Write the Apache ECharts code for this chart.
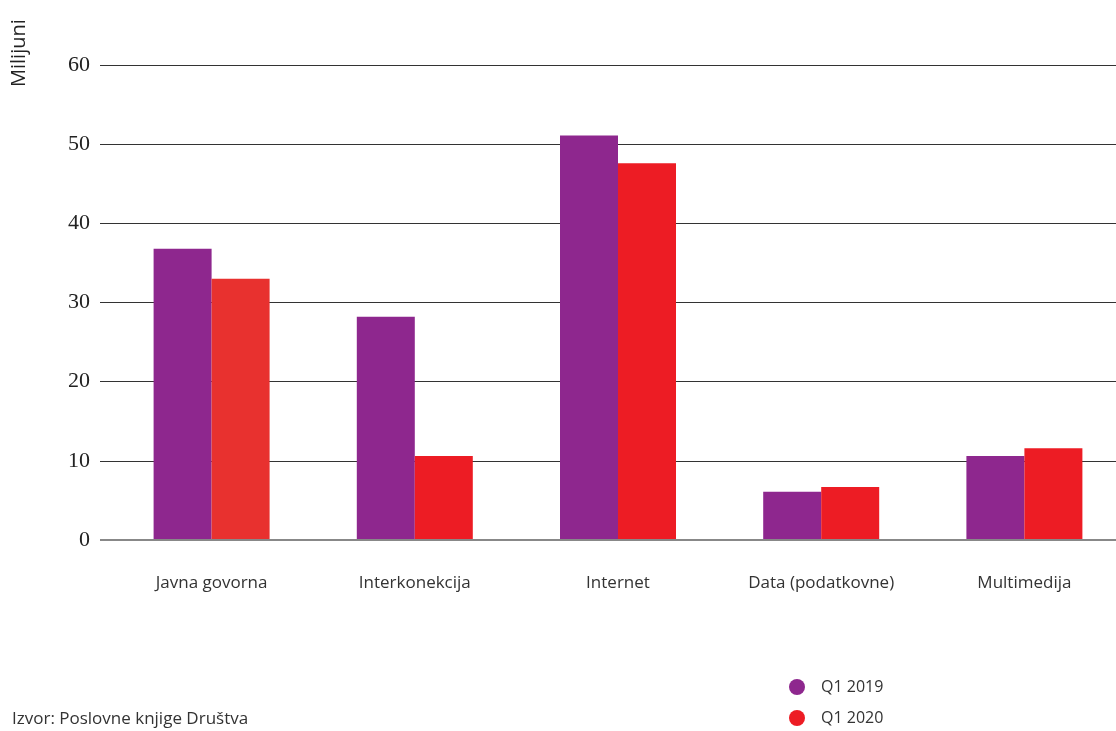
<!DOCTYPE html>
<html><head><meta charset="utf-8">
<script src="https://cdn.jsdelivr.net/npm/echarts@6/dist/echarts.min.js"></script>
<style>html,body{margin:0;padding:0;background:#fff}#c{width:1116px;height:731px}</style>
</head><body><div id="c"></div>
<script>
const categories = ['Javna govorna', 'Interkonekcija', 'Internet', 'Data (podatkovne)', 'Multimedija'];
const q12019 = [36.8, 28.2, 51.1, 6.1, 10.6];
const q12020 = [33.0, 10.6, 47.6, 6.7, 11.6];
const seriesNames = ['Q1 2019', 'Q1 2020'];
const yTicks = [0, 10, 20, 30, 40, 50, 60];

const chart = echarts.init(document.getElementById('c'));
const sans = '"Open Sans", "Noto Sans", sans-serif';
chart.setOption({
  animation: false,
  grid: [
    {left: 100, right: 0, top: 65, bottom: 191, outerBoundsMode: 'none', containLabel: false},
    {left: 110, right: -10, top: 65, bottom: 191, outerBoundsMode: 'none', containLabel: false}
  ],
  xAxis: [
    {type: 'category', gridIndex: 0, data: categories, show: false},
    {type: 'category', gridIndex: 1, data: categories,
     axisLine: {show: false}, axisTick: {show: false},
     axisLabel: {color: '#333', fontFamily: sans, fontSize: 17, margin: 35}}
  ],
  yAxis: [
    {type: 'value', gridIndex: 0, min: yTicks[0], max: yTicks[yTicks.length-1], interval: 10,
     axisLine: {show: false}, axisTick: {show: false},
     axisLabel: {color: '#222', fontFamily: '"Liberation Serif", "DejaVu Serif", serif', fontSize: 22, margin: 10},
     splitLine: {lineStyle: {color: '#333', width: 1}}},
    {type: 'value', gridIndex: 1, min: yTicks[0], max: yTicks[yTicks.length-1], interval: 10, show: false}
  ],
  legend: {
    orient: 'vertical', left: 784, top: 674, itemGap: 15,
    icon: 'circle', itemWidth: 18, itemHeight: 16,
    textStyle: {color: '#333', fontFamily: sans, fontSize: 16, padding: [0, 0, 0, 10]},
    data: seriesNames
  },
  graphic: [
    {type: 'text', left: 12, top: 711, style: {text: 'Izvor: Poslovne knjige Društva', fill: '#333', font: '17px "Open Sans", "Noto Sans", sans-serif'}},
    {type: 'text', x: 9, y: 87, rotation: Math.PI / 2,
     style: {text: 'Milijuni', fill: '#222', font: '20px "Open Sans", "Noto Sans", sans-serif', align: 'left', verticalAlign: 'top'}},
    {type: 'line', shape: {x1: 100, y1: 540, x2: 1116, y2: 540}, style: {stroke: '#888', lineWidth: 2}, z: 100}
  ],
  series: [
    {name: seriesNames[0], type: 'bar', xAxisIndex: 1, yAxisIndex: 1, data: q12019, barWidth: 58, barGap: '0%',
     itemStyle: {color: '#8E278E'}},
    {name: seriesNames[1], type: 'bar', xAxisIndex: 1, yAxisIndex: 1, barWidth: 58, barGap: '0%',
     data: q12020.map((v, i) => i === 0 ? {value: v, itemStyle: {color: '#E8312F'}} : v),
     itemStyle: {color: '#ED1C24'}}
  ]
});
</script></body></html>
